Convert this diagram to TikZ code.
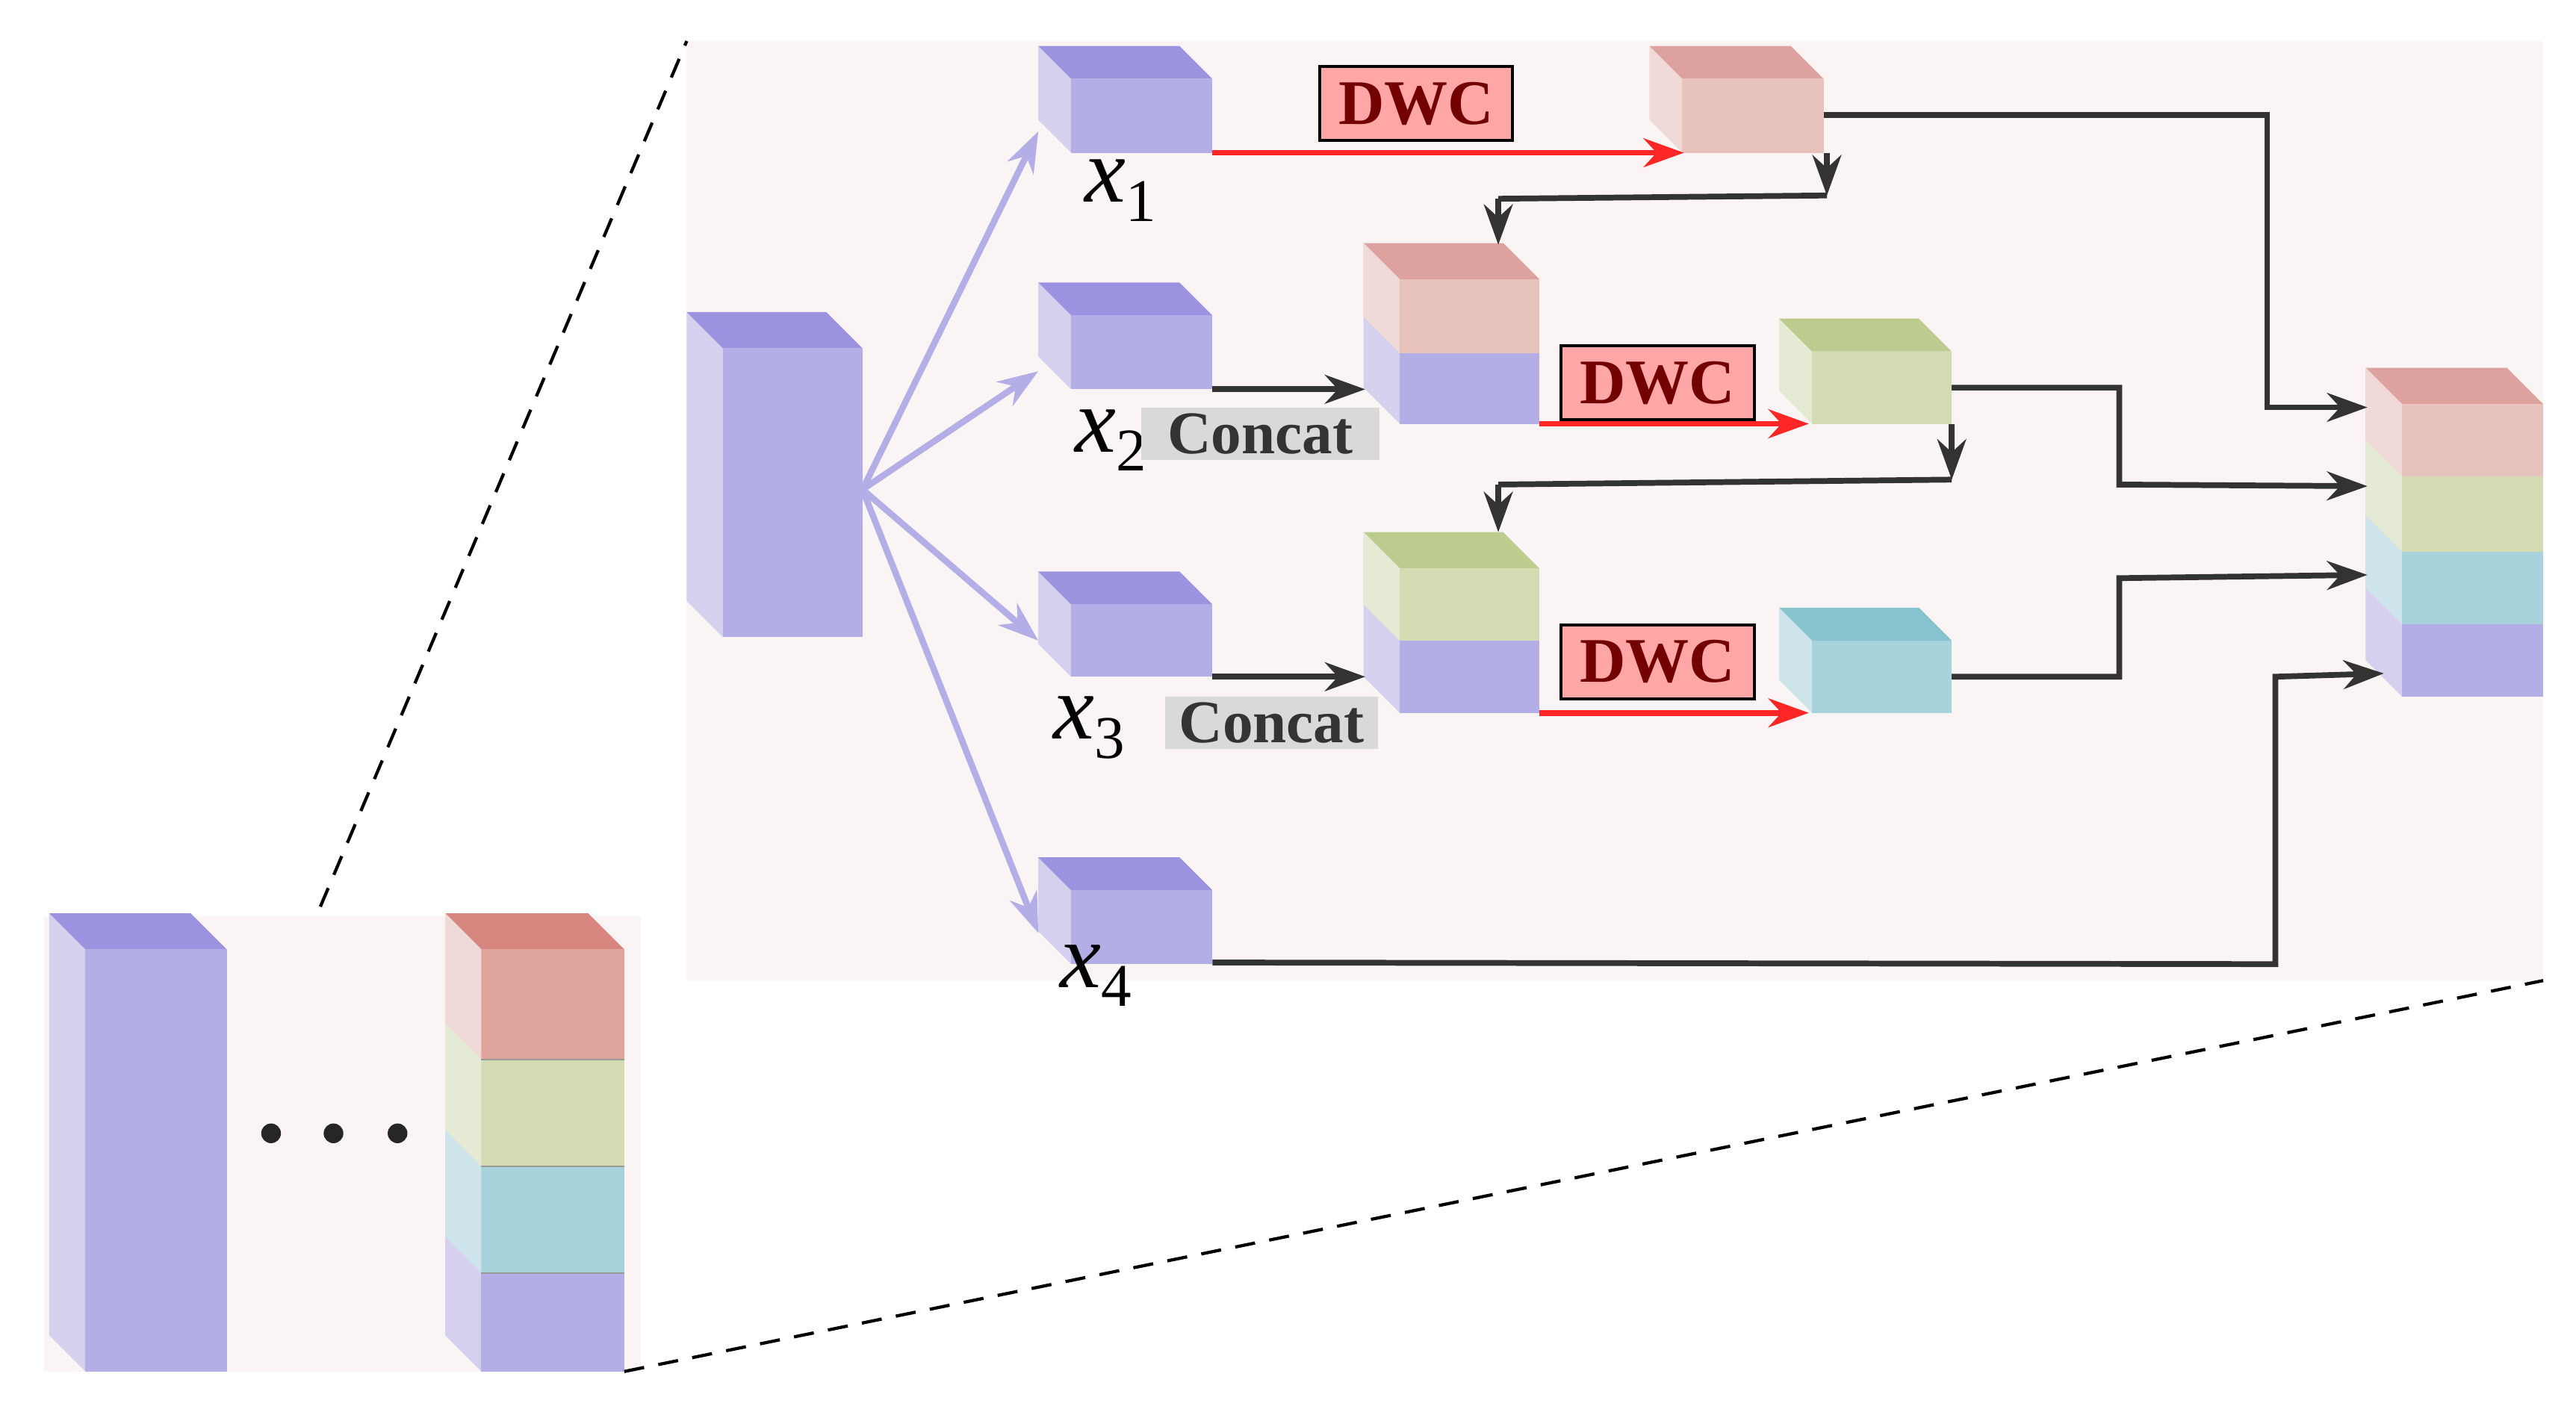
\documentclass[tikz,border=0pt]{standalone}
\usepackage{fontspec}
\setmainfont{Liberation Serif}
\usetikzlibrary{arrows.meta,calc}
\definecolor{pF}{HTML}{B3AEE6}\definecolor{pT}{HTML}{9B93DF}\definecolor{pS}{HTML}{D5D0EE}
\definecolor{rF}{HTML}{E8C3BE}\definecolor{rT}{HTML}{DDA29E}\definecolor{rS}{HTML}{F0DAD7}
\definecolor{gF}{HTML}{D2DBB1}\definecolor{gT}{HTML}{BCCC8F}\definecolor{gS}{HTML}{E4EAD3}
\definecolor{bF}{HTML}{A8D2DC}\definecolor{bT}{HTML}{87C3CF}\definecolor{bS}{HTML}{CDE5EA}
\definecolor{dF}{HTML}{DFA59C}\definecolor{dT}{HTML}{D6867F}
\definecolor{bg}{HTML}{FAF5F4}
\newcommand\mycube[8]{%
 \fill[#8] (#1-#5,#2-#5) -- (#1,#2) -- (#1,#4) -- (#1-#5,#4-#5) -- cycle;
 \fill[#7] (#1-#5,#2-#5) -- (#3-#5,#2-#5) -- (#3,#2) -- (#1,#2) -- cycle;
 \fill[#6] (#1,#2) rectangle (#3,#4);}
\newcommand\xsub[1]{\textit{x}\raisebox{-0.45ex}{\fontsize{21}{24}\selectfont #1}}
\tikzset{
 parr/.style={draw=pF,line width=2.2pt,-{Stealth[length=14pt,width=10pt]}},
 rarr/.style={draw=red!85,line width=2pt,-{Stealth[length=14pt,width=10pt]}},
 karr/.style={draw=black!80,line width=2pt,-{Stealth[length=14pt,width=10pt]}},
 kline/.style={draw=black!80,line width=2pt},
 dwc/.style={draw=black,line width=1pt,fill=red!35,text=red!45!black,font=\fontsize{22}{26}\selectfont\bfseries,inner sep=3pt,minimum width=2.35cm,minimum height=0.9cm},
 cat/.style={fill=black!15,text=black!80,font=\fontsize{21}{25}\selectfont\bfseries,inner sep=2pt,minimum height=0.6cm},
 xl/.style={font=\fontsize{32}{36}\selectfont},
 dashl/.style={dash pattern=on 7pt off 5pt,line width=1.1pt}
}
\begin{document}
\begin{tikzpicture}[x=0.02cm,y=-0.02cm]
\useasboundingbox (0,0) rectangle (1568,863);
\fill[bg] (418,25) rectangle (1548,597);
\fill[bg] (27,558) rectangle (390,835);
\mycube{440}{212}{525}{388}{22}{pF}{pT}{pS}
\coordinate (src) at (525,298);
\mycube{652}{48}{738}{93}{20}{pF}{pT}{pS}
\mycube{652}{192}{738}{237}{20}{pF}{pT}{pS}
\mycube{652}{368}{738}{412}{20}{pF}{pT}{pS}
\mycube{652}{542}{738}{587}{20}{pF}{pT}{pS}
\coordinate (t1) at (632,80);\coordinate (t2) at (632,226);
\coordinate (t3) at (632,390);\coordinate (t4) at (632,568);
\foreach \t in {t1,t2,t3,t4} \draw[parr] (src) -- (\t);
\node[xl] (x1) at (682,116) {\xsub{1}};
\node[xl] (x2) at (676,268) {\xsub{2}};
\node[xl] (x3) at (663,443) {\xsub{3}};
\node[xl] (x4) at (667,594) {\xsub{4}};
\mycube{1024}{48}{1110}{93}{20}{rF}{rT}{rS}
\mycube{852}{170}{937}{258}{22}{pF}{rT}{pS}
\fill[rF] (852,170) rectangle (937,215);
\fill[rS] (830,148) -- (852,170) -- (852,215) -- (830,193) -- cycle;
\mycube{1103}{214}{1188}{258}{20}{gF}{gT}{gS}
\mycube{852}{346}{937}{434}{22}{pF}{gT}{pS}
\fill[gF] (852,346) rectangle (937,390);
\fill[gS] (830,324) -- (852,346) -- (852,390) -- (830,368) -- cycle;
\mycube{1103}{390}{1188}{434}{20}{bF}{bT}{bS}
\mycube{1462}{246}{1548}{424}{22}{pF}{rT}{pS}
\fill[rF] (1462,246) rectangle (1548,290);
\fill[gF] (1462,290) rectangle (1548,336);
\fill[bF] (1462,336) rectangle (1548,380);
\fill[rS] (1440,224) -- (1462,246) -- (1462,290) -- (1440,268) -- cycle;
\fill[gS] (1440,268) -- (1462,290) -- (1462,336) -- (1440,314) -- cycle;
\fill[bS] (1440,314) -- (1462,336) -- (1462,380) -- (1440,358) -- cycle;
\draw[rarr] (738,93) -- (1025,93);
\draw[rarr] (937,258) -- (1101,258);
\draw[rarr] (937,434) -- (1101,434);
\node[dwc] (d1) at (862,63) {DWC};
\node[dwc] (d2) at (1009,233) {DWC};
\node[dwc] (d3) at (1009,403) {DWC};
\draw[karr] (738,237) -- (831,237);
\draw[karr] (738,412) -- (831,412);
\node[cat,minimum width=2.9cm] (c1) at (767,264) {Concat};
\node[cat,minimum width=2.6cm] (c2) at (774,440) {Concat};
\draw[karr] (1112,93) -- (1112,119);
\draw[kline] (1112,119) -- (912,121);
\draw[karr] (912,121) -- (912,149);
\draw[karr] (1188,258) -- (1188,292);
\draw[kline] (1188,292) -- (912,295);
\draw[karr] (912,295) -- (912,324);
\draw[karr] (1110,70) -- (1380,70) -- (1380,248) -- (1441,248);
\draw[karr] (1188,236) -- (1290,236) -- (1290,295) -- (1441,296);
\draw[karr] (1188,412) -- (1290,412) -- (1290,352) -- (1441,350);
\draw[karr] (738,586) -- (1385,587) -- (1385,412) -- (1451,410);
\mycube{52}{578}{138}{835}{22}{pF}{pT}{pS}
\mycube{293}{578}{380}{835}{22}{pF}{dT}{pS}
\fill[dF] (293,578) rectangle (380,645);
\fill[gF] (293,645) rectangle (380,710);
\fill[bF] (293,710) rectangle (380,775);
\fill[rS] (271,556) -- (293,578) -- (293,645) -- (271,623) -- cycle;
\fill[gS] (271,623) -- (293,645) -- (293,710) -- (271,688) -- cycle;
\fill[bS] (271,688) -- (293,710) -- (293,775) -- (271,753) -- cycle;
\draw[black!40,thin] (293,645)--(380,645) (293,710)--(380,710) (293,775)--(380,775);
\foreach \x in {165,203,242} \fill[black!85] (\x,690) circle (6);
\draw[dashl] (195,552) -- (418,25);
\draw[dashl] (380,835) -- (1548,597);
\end{tikzpicture}
\end{document}
